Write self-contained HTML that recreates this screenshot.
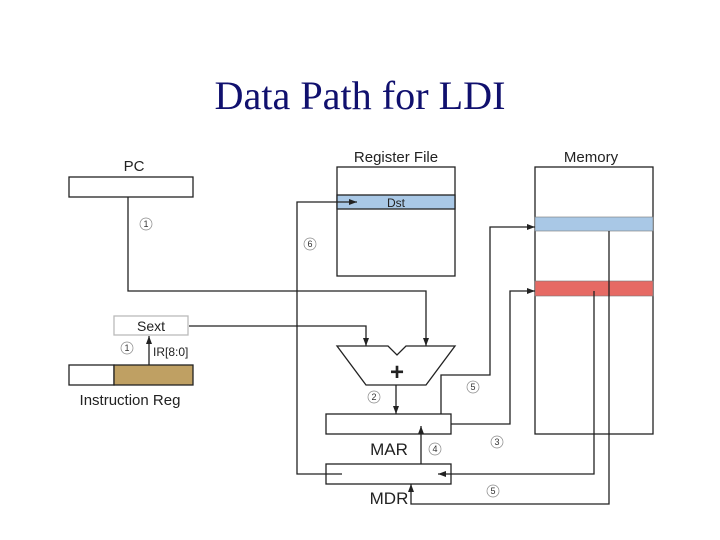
<!DOCTYPE html>
<html><head><meta charset="utf-8"><style>body{margin:0;background:#fff}svg{display:block}</style></head><body>
<svg width="720" height="540" viewBox="0 0 720 540" xmlns="http://www.w3.org/2000/svg" font-family="Liberation Sans, sans-serif">
<defs><marker id="a" markerWidth="8" markerHeight="6" refX="8" refY="3" orient="auto" markerUnits="userSpaceOnUse"><path d="M0,0 L8,3 L0,6z" fill="#222"/></marker></defs>
<text x="360" y="109" text-anchor="middle" font-family="Liberation Serif, serif" font-size="40" fill="#10106e" textLength="291" lengthAdjust="spacingAndGlyphs">Data Path for LDI</text>
<g font-size="15" fill="#222">
<text x="134" y="171" text-anchor="middle">PC</text>
<text x="396" y="162" text-anchor="middle">Register File</text>
<text x="591" y="162" text-anchor="middle">Memory</text>
<text x="130" y="405" text-anchor="middle">Instruction Reg</text>
<text x="389" y="455" text-anchor="middle" font-size="17">MAR</text>
<text x="389" y="504" text-anchor="middle" font-size="17">MDR</text>
<text x="151" y="331" text-anchor="middle" font-size="14">Sext</text>
<text x="153" y="356" font-size="12">IR[8:0]</text>
</g>
<g fill="none" stroke="#222" stroke-width="1.3">
<rect x="69" y="177" width="124" height="20" fill="#fff"/>
<rect x="337" y="167" width="118" height="109" fill="#fff"/>
<rect x="337" y="195" width="118" height="14" fill="#a9c8e6"/>
<rect x="535" y="167" width="118" height="267" fill="#fff"/>
<rect x="535" y="217" width="118" height="14" fill="#a9c8e6" stroke="#777" stroke-width="0.6"/>
<rect x="535" y="281" width="118" height="15" fill="#e66a64" stroke="#777" stroke-width="0.6"/>
<rect x="114" y="316" width="74" height="19" stroke="#bbb"/>
<rect x="69" y="365" width="45" height="20" fill="#fff"/>
<rect x="114" y="365" width="79" height="20" fill="#bfa063"/>
<path d="M337,346 L388,346 L397,355 L406,346 L455,346 L426,385 L366,385 Z" fill="#fff"/>
<rect x="326" y="414" width="125" height="20" fill="#fff"/>
<rect x="326" y="464" width="125" height="20" fill="#fff"/>
<path d="M128,197 V291 H426 V346" marker-end="url(#a)"/>
<path d="M189,326 H366 V346" marker-end="url(#a)"/>
<path d="M149,365 V336" marker-end="url(#a)"/>
<path d="M396,385 V414" marker-end="url(#a)"/>
<path d="M441,414 V375 H490 V227 H535" marker-end="url(#a)"/>
<path d="M451,424 H510 V291 H535" marker-end="url(#a)"/>
<path d="M609,231 V504 H411 V484" marker-end="url(#a)"/>
<path d="M594,291 V474 H438" marker-end="url(#a)"/>
<path d="M421,464 V426" marker-end="url(#a)"/>
<path d="M342,474 H297 V202 H357" marker-end="url(#a)"/>
</g>
<text x="397" y="380" text-anchor="middle" font-size="24" font-weight="bold" fill="#222">+</text>
<text x="396" y="207" text-anchor="middle" font-size="12" fill="#222">Dst</text>
<g font-size="9" fill="#333" text-anchor="middle" stroke-width="0.7">
<g fill="none" stroke="#888">
<circle cx="146" cy="224" r="6"/><circle cx="127" cy="348" r="6"/><circle cx="310" cy="244" r="6"/>
<circle cx="473" cy="387" r="6"/><circle cx="374" cy="397" r="6"/><circle cx="497" cy="442" r="6"/>
<circle cx="435" cy="449" r="6"/><circle cx="493" cy="491" r="6"/></g>
<text x="146" y="227">1</text><text x="127" y="351">1</text><text x="310" y="247">6</text>
<text x="473" y="390">5</text><text x="374" y="400">2</text><text x="497" y="445">3</text>
<text x="435" y="452">4</text><text x="493" y="494">5</text>
</g>
</svg>
</body></html>
